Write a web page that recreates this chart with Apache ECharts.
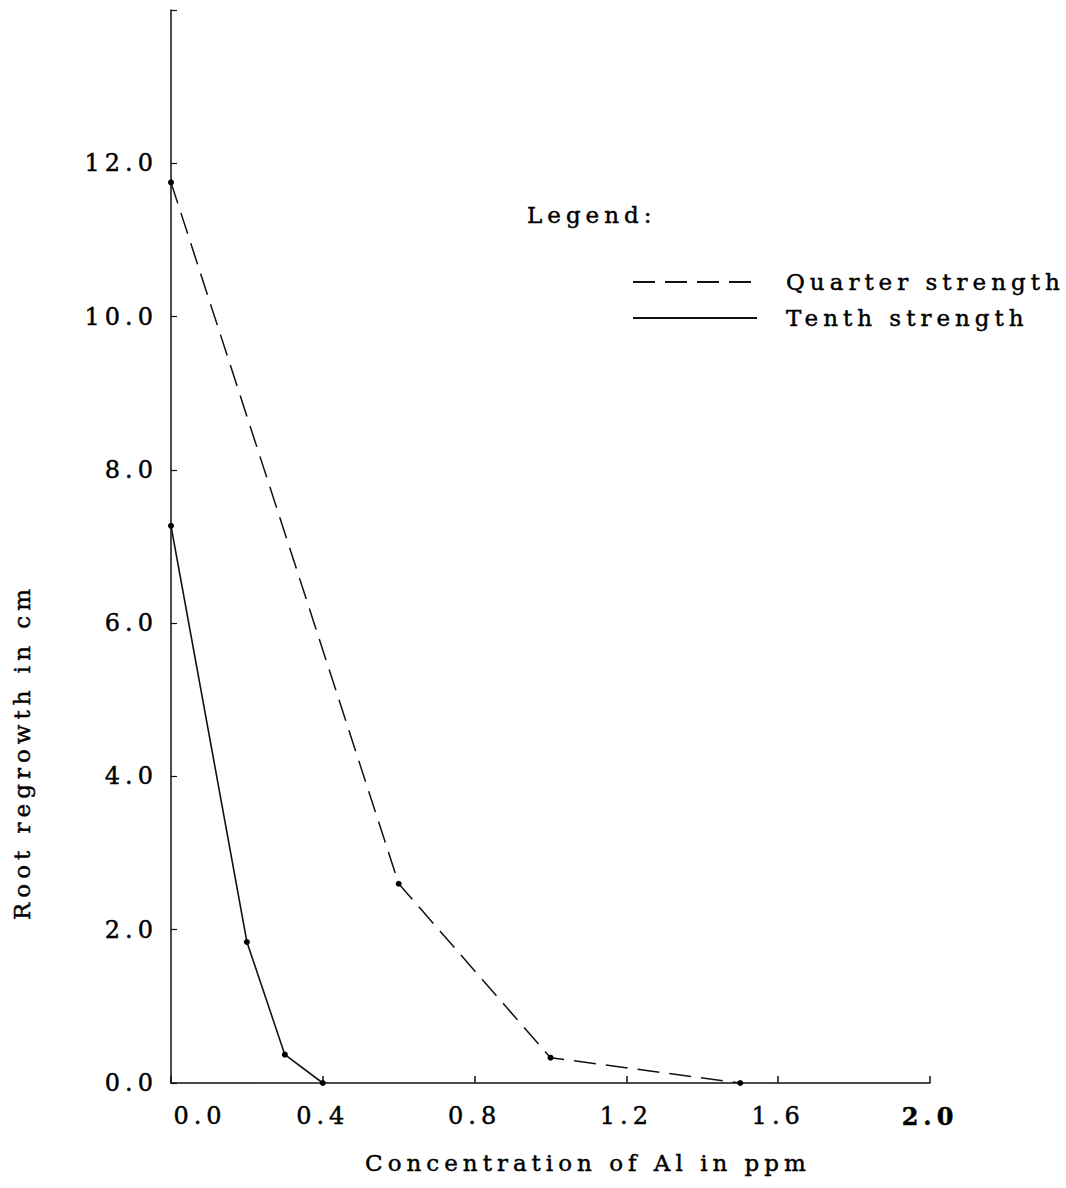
<!DOCTYPE html>
<html>
<head>
<meta charset="utf-8">
<script src="https://cdn.jsdelivr.net/npm/echarts@6/dist/echarts.min.js"></script>
<style>
html,body{margin:0;padding:0;background:#fff;}
#chart{width:1066px;height:1188px;}
#chart svg text{letter-spacing:5px;stroke:#000;stroke-width:0.45px;}
</style>
</head>
<body>
<div id="chart"></div>
<script>
// Data
const seriesNames = ['Quarter strength', 'Tenth strength'];
const quarterX = [0.0, 0.6, 1.0, 1.5];
const quarterY = [11.75, 2.6, 0.33, 0.0];
const tenthX = [0.0, 0.2, 0.3, 0.4];
const tenthY = [7.27, 1.84, 0.37, 0.0];
const xTicks = [0.0, 0.4, 0.8, 1.2, 1.6, 2.0];
const yTicks = [0.0, 2.0, 4.0, 6.0, 8.0, 10.0, 12.0];
const xTitle = 'Concentration of Al in ppm';
const yTitle = 'Root regrowth in cm';
const legendTitle = 'Legend:';

const FONT = 'DejaVu Serif';
const pair = (xs, ys) => xs.map((x, i) => [x, ys[i]]);

const chart = echarts.init(document.getElementById('chart'), null, {renderer: 'svg'});
chart.setOption({
  backgroundColor: '#fff',
  animation: false,
  title: {
    text: legendTitle, left: 522, top: 198,
    textStyle: {fontFamily: FONT, fontSize: 23, fontWeight: 'normal', color: '#000'}
  },
  legend: {
    orient: 'vertical', left: 627, top: 264,
    itemWidth: 124, itemHeight: 14, itemGap: 10,
    data: seriesNames,
    itemStyle: {opacity: 0},
    textStyle: {fontFamily: FONT, fontSize: 23, color: '#000', lineHeight: 26, padding: [0, 0, 0, 24]},
    selectedMode: false
  },
  grid: {left: 171, right: 136, top: 10, bottom: 105, containLabel: false},
  xAxis: {
    type: 'value', min: 0, max: 2.0, interval: 0.4,
    axisLine: {show: true, lineStyle: {color: '#111', width: 1.5}},
    axisTick: {show: true, inside: true, length: 7, lineStyle: {color: '#111', width: 1.5}},
    splitLine: {show: false},
    axisLabel: {
      margin: 21, fontFamily: FONT, fontSize: 24, color: '#000',
      formatter: v => {
        const s = v.toFixed(1);
        if (v === xTicks[0]) return '{z|' + s + '}';
        if (v === xTicks[xTicks.length - 1]) return '{b|' + s + '}';
        return s;
      },
      rich: {
        z: {fontFamily: FONT, fontSize: 24, color: '#000', padding: [0, 0, 0, 58]},
        b: {fontFamily: FONT, fontSize: 24, color: '#000', fontWeight: 'bold'}
      }
    }
  },
  yAxis: {
    type: 'value', min: 0, max: 14, interval: 2,
    axisLine: {show: true, lineStyle: {color: '#111', width: 1.5}},
    axisTick: {show: true, inside: true, length: 6, lineStyle: {color: '#111', width: 1.2}},
    splitLine: {show: false},
    axisLabel: {
      margin: 13, fontFamily: FONT, fontSize: 24, color: '#000',
      formatter: v => (yTicks.indexOf(v) >= 0 ? v.toFixed(1) : '')
    }
  },
  graphic: [
    {type: 'text', x: 22, y: 752, rotation: Math.PI / 2,
     style: {text: yTitle, font: '23px "DejaVu Serif"', fill: '#000', align: 'center', verticalAlign: 'middle'}},
    {type: 'text', x: 588, y: 1163,
     style: {text: xTitle, font: '23px "DejaVu Serif"', fill: '#000', align: 'center', verticalAlign: 'middle'}}
  ],
  series: [
    {
      name: seriesNames[0], type: 'line', data: pair(quarterX, quarterY),
      symbol: 'circle', symbolSize: 6,
      itemStyle: {color: '#000'},
      lineStyle: {color: '#111', width: 1.5, type: [22, 10]}
    },
    {
      name: seriesNames[1], type: 'line', data: pair(tenthX, tenthY),
      symbol: 'circle', symbolSize: 6,
      itemStyle: {color: '#000'},
      lineStyle: {color: '#111', width: 1.6, type: 'solid'}
    }
  ]
});
</script>
</body>
</html>
